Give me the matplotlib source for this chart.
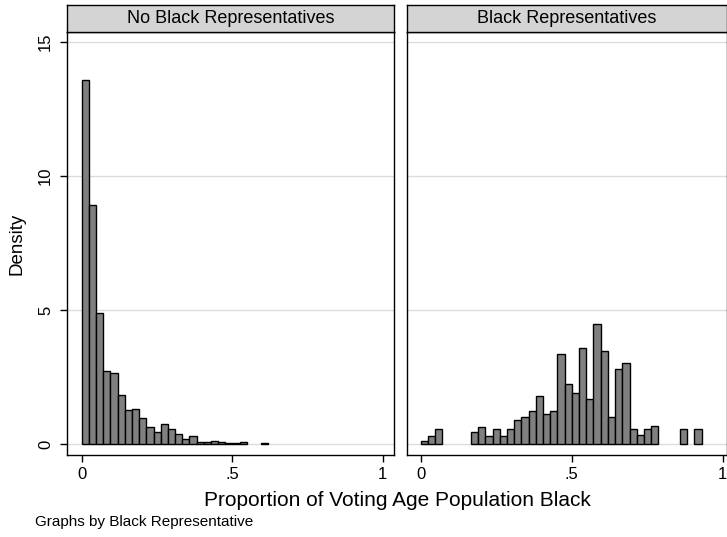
import numpy as np
import matplotlib
matplotlib.use("Agg")
import matplotlib.pyplot as plt

plt.rcParams['font.family'] = ['Liberation Sans', 'DejaVu Sans']

# Common bins for both groups (39 bins spanning 0 to 0.93)
n_bins = 39
bin_min, bin_max = 0.0, 0.93
edges = np.linspace(bin_min, bin_max, n_bins + 1)
width = edges[1] - edges[0]

# Density by bin: districts without a black representative
density_no = [13.58, 8.92, 4.90, 2.74, 2.66, 1.83, 1.27, 1.32, 0.98, 0.65,
              0.46, 0.73, 0.57, 0.36, 0.17, 0.31, 0.06, 0.06, 0.11, 0.07,
              0.04, 0.04, 0.08, 0.0, 0.0, 0.03, 0.0, 0.0, 0.0, 0.0,
              0.0, 0.0, 0.0, 0.0, 0.0, 0.0, 0.0, 0.0, 0.0]

# Density by bin: districts with a black representative
density_yes = [0.10, 0.31, 0.55, 0.0, 0.0, 0.0, 0.0, 0.43, 0.65, 0.31,
               0.55, 0.31, 0.55, 0.89, 1.00, 1.23, 1.79, 1.12, 1.23, 3.37,
               2.25, 1.91, 3.59, 1.68, 4.49, 3.48, 1.01, 2.81, 3.03, 0.56,
               0.32, 0.56, 0.66, 0.0, 0.0, 0.0, 0.56, 0.0, 0.56]

panel_titles = ["No Black Representatives", "Black Representatives"]
xticks = [0, 0.5, 1]
xticklabels = ["0", ".5", "1"]
yticks = [0, 5, 10, 15]
yticklabels = ["0", "5", "10", "15"]

W, H = 727, 537
fig = plt.figure(figsize=(W / 100, H / 100), dpi=100)

def fx(px):
    return px / W

def fy(py):
    return 1 - py / H

plot_top, plot_bottom, strip_top = 32, 455, 5
panels = [
    dict(left=67, right=394, xlim=(-0.049, 1.0375), data=density_no, yaxis=True),
    dict(left=407, right=726.5, xlim=(-0.045, 1.0126), data=density_yes, yaxis=False),
]

for title, p in zip(panel_titles, panels):
    ax = fig.add_axes([fx(p['left']), fy(plot_bottom), fx(p['right'] - p['left']),
                       (plot_bottom - plot_top) / H])
    ax.set_xlim(*p['xlim'])
    ax.set_ylim(-0.41, 15.37)
    for yv in yticks:
        ax.axhline(yv, color='#dcdcdc', lw=1.0, zorder=0)
    vals = np.asarray(p['data'])
    mask = vals > 0
    ax.bar(edges[:-1][mask], vals[mask], width=width, align='edge',
           color='#808080', edgecolor='black', linewidth=1.0, zorder=2)
    for s in ax.spines.values():
        s.set_linewidth(1.0)
        s.set_color('black')
    ax.set_xticks(xticks)
    ax.set_xticklabels(xticklabels, fontsize=12)
    ax.tick_params(axis='x', length=5, width=1.0, pad=3.5)
    if p['yaxis']:
        ax.set_yticks(yticks)
        ax.set_yticklabels(yticklabels, fontsize=12, rotation=90, va='center')
        ax.tick_params(axis='y', length=5, width=1.0, pad=5)
        ax.set_ylabel("Density", fontsize=13.5, labelpad=9)
    else:
        ax.set_yticks([])

    # Panel header strip
    sax = fig.add_axes([fx(p['left']), fy(plot_top), fx(p['right'] - p['left']),
                        (plot_top - strip_top) / H])
    sax.set_facecolor('#d4d4d4')
    sax.set_xticks([])
    sax.set_yticks([])
    for s in sax.spines.values():
        s.set_linewidth(1.0)
        s.set_color('black')
    sax.text(0.5, 0.5, title, ha='center', va='center', fontsize=13,
             transform=sax.transAxes)

fig.text(fx(397), fy(500), "Proportion of Voting Age Population Black",
         ha='center', va='center', fontsize=15)
fig.text(fx(35), fy(522), "Graphs by Black Representative",
         ha='left', va='center', fontsize=11)

fig.savefig("out.png", dpi=100)
